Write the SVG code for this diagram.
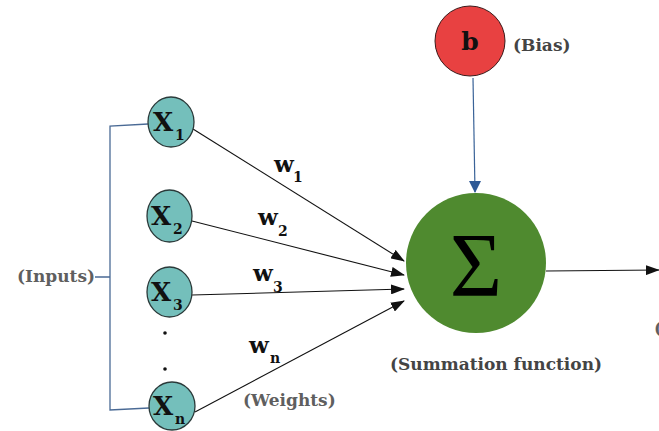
<svg xmlns="http://www.w3.org/2000/svg" width="659" height="431" viewBox="0 0 659 431">
<style>
.inp{fill:#74bfbb;stroke:#2b3a3a;stroke-width:1.3}
.xl{font-family:"DejaVu Serif",serif;font-weight:bold;font-size:26px;fill:#111}
.sub{font-family:"DejaVu Serif",serif;font-weight:bold;font-size:14px;fill:#111}
.wl{font-family:"DejaVu Serif",serif;font-weight:bold;font-size:23px;fill:#111}
.lab{font-family:"DejaVu Serif",serif;font-weight:bold;font-size:17px;fill:#5f5f5f}
.lab2{font-family:"DejaVu Serif",serif;font-weight:bold;font-size:17px;fill:#444}
.arr{stroke:#111;stroke-width:1.1;fill:none;marker-end:url(#ah)}
.br{stroke:#4a6a95;stroke-width:1.3;fill:none}
</style>
<defs>
<marker id="ah" markerWidth="14" markerHeight="10" refX="13" refY="5" orient="auto" markerUnits="userSpaceOnUse">
<path d="M0,0 L14,5 L0,10 Z" fill="#111"/>
</marker>
<marker id="ahb" markerWidth="12" markerHeight="12" refX="6" refY="11" orient="0" markerUnits="userSpaceOnUse">
<path d="M0,0 L12,0 L6,12 Z" fill="#2f5a96"/>
</marker>
</defs>
<rect width="659" height="431" fill="#fff"/>
<g id="connectors">
<path class="br" d="M148,124 L110,126 L110,410 L149,408 M95,277 L110,277"/>
<line class="arr" x1="193" y1="129" x2="404" y2="261"/>
<line class="arr" x1="192" y1="221" x2="404" y2="275"/>
<line class="arr" x1="192" y1="295" x2="404" y2="289"/>
<line class="arr" x1="195" y1="412" x2="404" y2="301"/>
<line x1="473" y1="78" x2="475" y2="192" stroke="#3a6398" stroke-width="1.2" marker-end="url(#ahb)"/>
<line class="arr" x1="546" y1="271" x2="659" y2="270"/>
</g>
<g id="x1"><ellipse class="inp" cx="171" cy="122" rx="23" ry="25"/><text class="xl" x="153" y="131">X</text><text class="sub" x="175" y="140">1</text></g>
<g id="x2"><ellipse class="inp" cx="169.5" cy="216" rx="22.5" ry="26"/><text class="xl" x="151" y="225">X</text><text class="sub" x="173" y="234">2</text></g>
<g id="x3"><ellipse class="inp" cx="169.5" cy="292" rx="22.5" ry="25"/><text class="xl" x="151" y="301">X</text><text class="sub" x="173" y="310">3</text></g>
<g id="xn"><ellipse class="inp" cx="172" cy="406" rx="23" ry="24"/><text class="xl" x="153" y="415">X</text><text class="sub" x="175" y="424">n</text></g>
<g id="dots"><circle cx="165" cy="333" r="1.8" fill="#111"/><circle cx="165" cy="369" r="1.8" fill="#111"/></g>
<g id="inputs-label"><text class="lab" x="17" y="282">(Inputs)</text></g>
<g id="weights">
<text class="wl" x="274" y="172">w</text><text class="sub" x="293" y="182">1</text>
<text class="wl" x="258" y="225">w</text><text class="sub" x="278" y="236">2</text>
<text class="wl" x="253" y="281">w</text><text class="sub" x="273" y="292">3</text>
<text class="wl" x="249" y="353">w</text><text class="sub" x="270" y="363">n</text>
<text class="lab" x="243" y="406">(Weights)</text>
</g>
<g id="bias"><circle cx="470" cy="41" r="35" fill="#e84141" stroke="#3a1a1a" stroke-width="1"/><text x="470" y="50" text-anchor="middle" font-family="DejaVu Serif,serif" font-weight="bold" font-size="25" fill="#111">b</text><text class="lab2" x="513" y="51">(Bias)</text></g>
<g id="sum"><circle cx="476" cy="263" r="70" fill="#4f8a2f"/><text x="476" y="296" text-anchor="middle" font-family="Liberation Serif,serif" font-size="90" fill="#000">Σ</text><text class="lab2" x="390" y="370">(Summation function)</text></g>
<g id="output-label"><text class="lab" x="654" y="334">(</text></g>
</svg>
